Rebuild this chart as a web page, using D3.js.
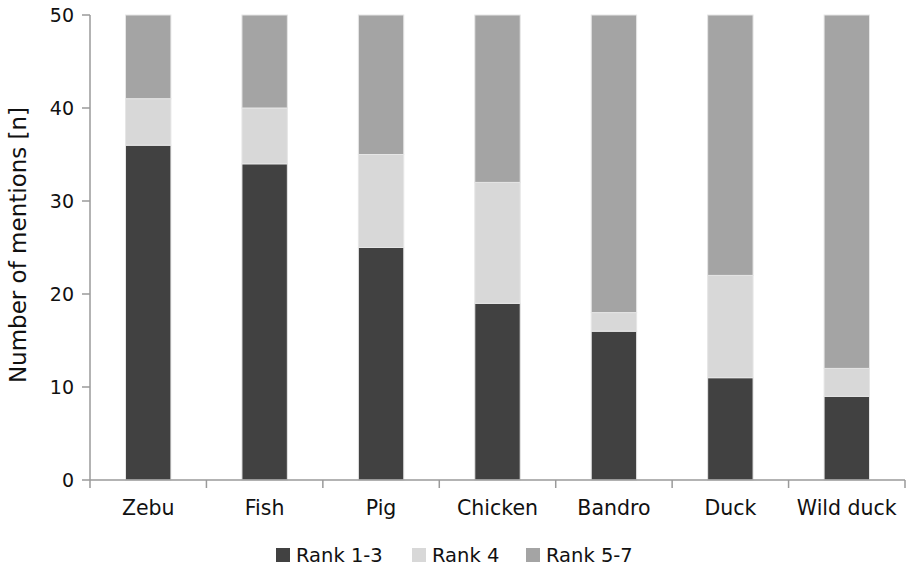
<!DOCTYPE html>
<html><head><meta charset="utf-8">
<script src="https://cdn.jsdelivr.net/npm/d3@7"></script>
<style>body{margin:0;background:#fff;} svg{display:block;}</style>
</head><body>
<svg id="c" width="907" height="571"></svg>
<script>
const categories = ["Zebu","Fish","Pig","Chicken","Bandro","Duck","Wild duck"];
const seriesNames = ["Rank 1-3","Rank 4","Rank 5-7"];
const rank13 = [36,34,25,19,16,11,9];
const rank4 = [5,6,10,13,2,11,3];
const rank57 = [9,10,15,18,32,28,38];
const yTicks = [0,10,20,30,40,50];
const colors = ["#414141","#d8d8d8","#a4a4a4"];

const svg = d3.select("#c");
const m = {left:90, right:2, top:15, bottom:91};
const W = 907, H = 571;
const x = d3.scaleBand().domain(categories).range([m.left, W-m.right]).paddingInner(0.61).paddingOuter(0.305);
const y = d3.scaleLinear().domain([0,50]).range([H-m.bottom, m.top]);

const table = categories.map((c,i)=>({cat:c, "Rank 1-3":rank13[i], "Rank 4":rank4[i], "Rank 5-7":rank57[i]}));
const stack = d3.stack().keys(seriesNames)(table);

const font = "DejaVu Sans, Verdana, sans-serif";
const axisCol = "#9a9a9a";

stack.forEach((s,si)=>{
  svg.append("g").selectAll("rect").data(s).join("rect")
    .attr("x", d=>x(d.data.cat))
    .attr("width", x.bandwidth())
    .attr("y", d=>y(d[1]))
    .attr("height", d=>y(d[0])-y(d[1]))
    .attr("fill", colors[si])
    .attr("stroke", "#e6e6e6").attr("stroke-width", 1);
});

// y axis
const gy = svg.append("g");
gy.append("line").attr("x1",m.left).attr("x2",m.left).attr("y1",y(50)).attr("y2",y(0)).attr("stroke",axisCol).attr("stroke-width",1.5);
yTicks.forEach(t=>{
  gy.append("line").attr("x1",m.left-8).attr("x2",m.left).attr("y1",y(t)).attr("y2",y(t)).attr("stroke",axisCol).attr("stroke-width",1.5);
  gy.append("text").attr("x",74).attr("y",y(t)).attr("dy","0.36em").attr("text-anchor","end")
    .attr("font-family",font).attr("font-size",19).attr("fill","#111").text(t);
});
// x axis
const gx = svg.append("g");
gx.append("line").attr("x1",m.left).attr("x2",W-m.right).attr("y1",y(0)).attr("y2",y(0)).attr("stroke",axisCol).attr("stroke-width",1.5);
for(let i=0;i<=categories.length;i++){
  const xx = m.left + i*(W-m.right-m.left)/categories.length;
  gx.append("line").attr("x1",xx).attr("x2",xx).attr("y1",y(0)).attr("y2",y(0)+8).attr("stroke",axisCol).attr("stroke-width",1.5);
}
categories.forEach(c=>{
  gx.append("text").attr("x",x(c)+x.bandwidth()/2).attr("y",515).attr("text-anchor","middle")
    .attr("font-family",font).attr("font-size",20.5).attr("fill","#111").text(c);
});
// y title
svg.append("text").attr("transform",`translate(26,245) rotate(-90)`).attr("text-anchor","middle")
  .attr("font-family",font).attr("font-size",23).attr("fill","#111").text("Number of mentions [n]");

// legend
const legX = [276, 412, 526];
seriesNames.forEach((n,i)=>{
  svg.append("rect").attr("x",legX[i]).attr("y",548).attr("width",14).attr("height",14).attr("fill",colors[i]);
  svg.append("text").attr("x",legX[i]+20).attr("y",562).attr("font-family",font).attr("font-size",19.5).attr("fill","#111").text(n);
});
</script>
</body></html>
